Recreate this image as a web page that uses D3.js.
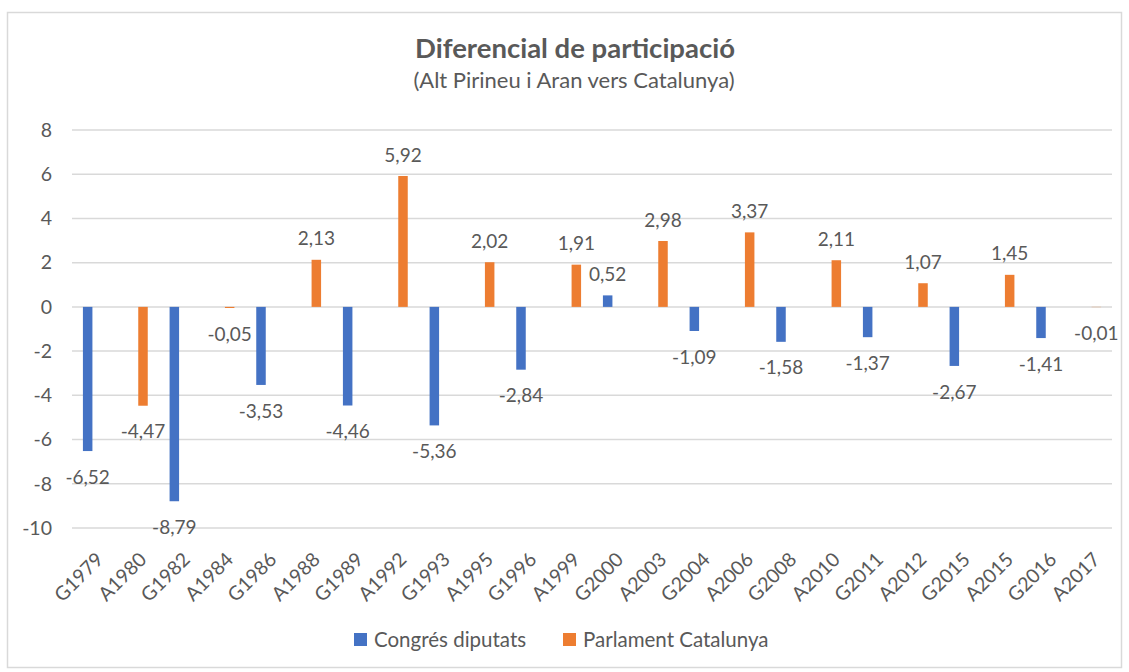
<!DOCTYPE html>
<html>
<head>
<meta charset="utf-8">
<script src="https://cdn.jsdelivr.net/npm/d3@7"></script>
<style>
  body { margin: 0; background: #fff; }
  text { font-family: Lato, "Open Sans", sans-serif; fill: #595959; }
</style>
</head>
<body>
<script>
var width = 1129, height = 672;

// categories (G = Congrés, A = Parlament)
var categories = ["G1979", "A1980", "G1982", "A1984", "G1986", "A1988", "G1989", "A1992",
    "G1993", "A1995", "G1996", "A1999", "G2000", "A2003", "G2004", "A2006",
    "G2008", "A2010", "G2011", "A2012", "G2015", "A2015", "G2016", "A2017"];

// Congrés diputats values (null where no election)
var congres = [-6.52, null, -8.79, null, -3.53, null, -4.46, null,
    -5.36, null, -2.84, null, 0.52, null, -1.09, null,
    -1.58, null, -1.37, null, -2.67, null, -1.41, null];

// Parlament Catalunya values
var parlament = [null, -4.47, null, -0.05, null, 2.13, null, 5.92,
    null, 2.02, null, 1.91, null, 2.98, null, 3.37,
    null, 2.11, null, 1.07, null, 1.45, null, -0.01];

var yTicks = [-10, -8, -6, -4, -2, 0, 2, 4, 6, 8];

var series = [
    { name: "Congrés diputats", values: congres, color: "#4472C4", offset: -6 },
    { name: "Parlament Catalunya", values: parlament, color: "#ED7D31", offset: 6 }
];

var margin = { top: 130, right: 17, bottom: 144, left: 72 };
var plotW = width - margin.left - margin.right,
    plotH = height - margin.top - margin.bottom;

// comma decimals, plain hyphen for minus
function fmt(v, p) {
    return d3.format("." + p + "f")(v).replace(".", ",").replace("\u2212", "-");
}

var svg = d3.select("body").append("svg")
    .attr("width", width)
    .attr("height", height);

// outer border
svg.append("rect")
    .attr("x", 7.5).attr("y", 12.5)
    .attr("width", 1114).attr("height", 655)
    .attr("fill", "#fff")
    .attr("stroke", "#d9d9d9")
    .attr("stroke-width", 1.5);

// title
svg.append("text")
    .attr("x", 575).attr("y", 58)
    .attr("text-anchor", "middle")
    .style("font-size", "27.5px")
    .style("font-weight", "bold")
    .text("Diferencial de participació");

svg.append("text")
    .attr("x", 574).attr("y", 88)
    .attr("text-anchor", "middle")
    .style("font-size", "22px")
    .text("(Alt Pirineu i Aran vers Catalunya)");

var g = svg.append("g")
    .attr("transform", "translate(" + margin.left + "," + margin.top + ")");

var x = d3.scaleBand()
    .domain(categories)
    .range([0, plotW]);

var y = d3.scaleLinear()
    .domain([-10, 8])
    .range([398, 0]);

// gridlines
g.selectAll("line.grid")
    .data(yTicks)
    .enter().append("line")
    .attr("class", "grid")
    .attr("x1", 0).attr("x2", plotW)
    .attr("y1", function (d) { return y(d); })
    .attr("y2", function (d) { return y(d); })
    .attr("stroke", "#d9d9d9")
    .attr("stroke-width", 1.5);

// y axis labels
var yAxis = d3.axisLeft(y)
    .tickValues(yTicks)
    .tickSize(0)
    .tickPadding(20)
    .tickFormat(function (d) { return fmt(d, 0); });

g.append("g")
    .call(yAxis)
    .call(function (s) { s.select(".domain").remove(); })
    .selectAll("text")
    .style("font-size", "19.5px")
    .style("fill", "#595959")
    .style("font-family", "Lato, sans-serif");

// x axis labels
g.append("g")
    .selectAll("text")
    .data(categories)
    .enter().append("text")
    .attr("transform", function (d) {
        return "translate(" + (x(d) + x.bandwidth() / 2 + 6) + "," + (y(-10) + 28) + ") rotate(-45)";
    })
    .attr("text-anchor", "end")
    .attr("dy", "0.35em")
    .style("font-size", "19.5px")
    .text(function (d) { return d; });

var barW = 9.5;

series.forEach(function (s) {
    var pts = categories.map(function (c, i) { return { cat: c, v: s.values[i] }; })
        .filter(function (d) { return d.v !== null; });

    g.selectAll(null)
        .data(pts)
        .enter().append("rect")
        .attr("x", function (d) { return x(d.cat) + x.bandwidth() / 2 + s.offset - barW / 2; })
        .attr("y", function (d) { return Math.min(y(d.v), y(0)); })
        .attr("width", barW)
        .attr("height", function (d) { return Math.abs(y(d.v) - y(0)); })
        .attr("fill", s.color);

    g.selectAll(null)
        .data(pts)
        .enter().append("text")
        .attr("x", function (d) { return x(d.cat) + x.bandwidth() / 2 + s.offset; })
        .attr("y", function (d) { return d.v >= 0 ? y(d.v) - 21 : y(d.v) + 26; })
        .attr("dy", "0.35em")
        .attr("text-anchor", "middle")
        .style("font-size", "19px")
        .text(function (d) { return fmt(d.v, 2); });
});

// legend
var legend = svg.append("g");
var legendItems = [
    { name: series[0].name, color: series[0].color, x: 354 },
    { name: series[1].name, color: series[1].color, x: 563 }
];
legendItems.forEach(function (l) {
    legend.append("rect")
        .attr("x", l.x).attr("y", 633)
        .attr("width", 13).attr("height", 13)
        .attr("fill", l.color);
    legend.append("text")
        .attr("x", l.x + 20).attr("y", 640)
        .attr("dy", "0.35em")
        .style("font-size", "20.5px")
        .text(l.name);
});
</script>
</body>
</html>
